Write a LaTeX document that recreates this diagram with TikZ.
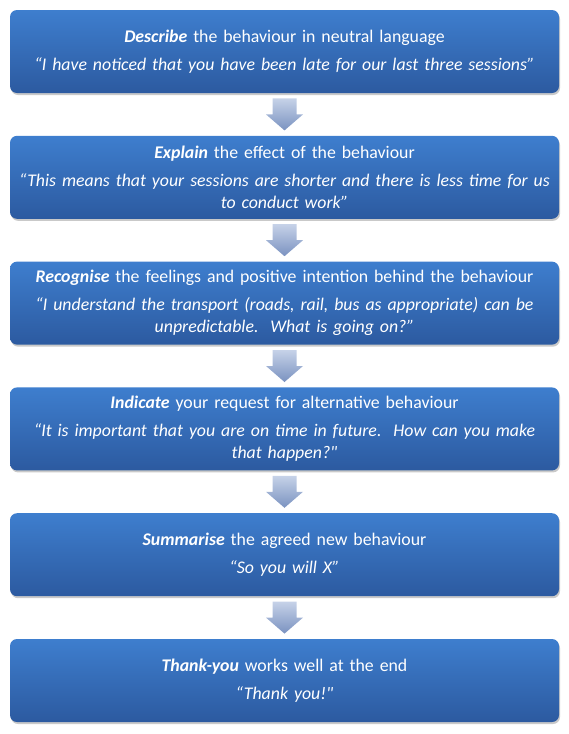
\documentclass[tikz,border=0pt]{standalone}
\usepackage{fontspec}
\setmainfont{Carlito}[Ligatures=TeXOff]
\usetikzlibrary{positioning,calc,shadows}
\definecolor{boxtop}{RGB}{62,126,206}
\definecolor{boxbot}{RGB}{44,90,160}
\definecolor{arrtop}{RGB}{198,210,232}
\definecolor{arrbot}{RGB}{122,146,192}
\tikzset{
	stepbox/.style={rounded corners=7pt, top color=boxtop, bottom color=boxbot, text=white,
		align=center, text width=547pt, inner xsep=1pt, inner ysep=0pt, minimum height=83pt,
		font=\fontsize{17.8pt}{22pt}\selectfont,
		drop shadow={shadow xshift=1pt, shadow yshift=-2pt, opacity=.3, fill=black!70}},
	downarrow/.style={top color=arrtop, bottom color=arrbot}
}
\newcommand{\keyword}[1]{\textbf{\textit{#1}}}
\begin{document}
\begin{tikzpicture}
	\useasboundingbox (0,0) rectangle (569pt,-734pt);
	\node[stepbox] (b1) at (284.5pt,-51.5pt) {\keyword{Describe} the behaviour in neutral language\\[6pt]
		\itshape “I have noticed that you have been late for our last three sessions”};
	\node[stepbox, below=42.4pt of b1] (b2) {\keyword{Explain} the effect of the behaviour\\[6pt]
		\itshape “This means that your sessions are shorter and there is less time for us\\ to conduct work”};
	\node[stepbox, below=42.4pt of b2] (b3) {\keyword{Recognise} the feelings and positive intention behind the behaviour\\[6pt]
		\itshape “I understand the transport (roads, rail, bus as appropriate) can be\\ unpredictable.\ \ What is going on?”};
	\node[stepbox, below=42.4pt of b3] (b4) {\keyword{Indicate} your request for alternative behaviour\\[6pt]
		\itshape “It is important that you are on time in future.\ \ How can you make\\ that happen?"};
	\node[stepbox, below=42.4pt of b4] (b5) {\keyword{Summarise} the agreed new behaviour\\[6pt]
		\itshape “So you will X”};
	\node[stepbox, below=42.4pt of b5] (b6) {\keyword{Thank-you} works well at the end\\[6pt]
		\itshape “Thank you!"};
	\foreach \a/\b in {b1/b2,b2/b3,b3/b4,b4/b5,b5/b6} {
		\coordinate (m) at ($(\a.south)!.5!(\b.north)$);
		\path[downarrow] ($(m)+(-12pt,16pt)$) -- ($(m)+(12pt,16pt)$) -- ($(m)+(12pt,0pt)$)
			-- ($(m)+(18.5pt,0pt)$) -- ($(m)+(0pt,-16pt)$) -- ($(m)+(-18.5pt,0pt)$)
			-- ($(m)+(-12pt,0pt)$) -- cycle;
	}
\end{tikzpicture}
\end{document}
